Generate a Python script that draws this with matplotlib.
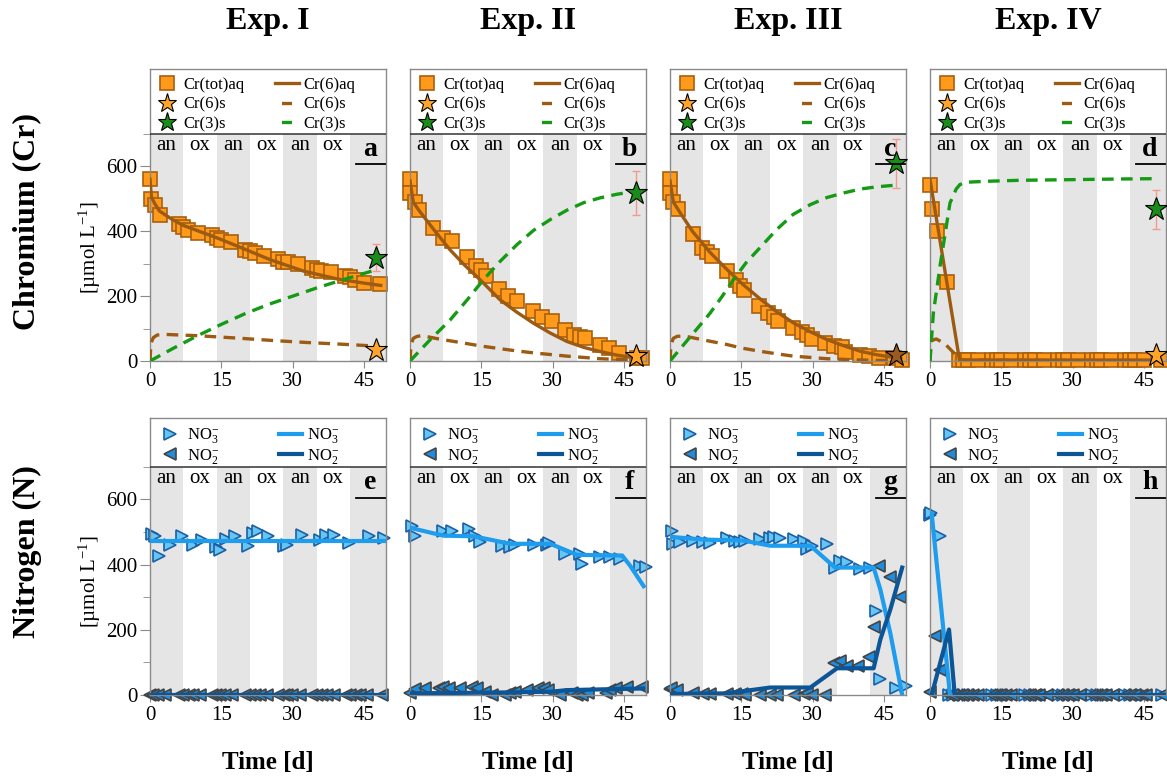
import matplotlib
matplotlib.use('Agg')
import matplotlib.pyplot as plt
from matplotlib.lines import Line2D

plt.rcParams['font.family'] = ['Liberation Serif', 'DejaVu Serif']
plt.rcParams['mathtext.fontset'] = 'custom'
plt.rcParams['mathtext.rm'] = 'Liberation Serif'
plt.rcParams['mathtext.it'] = 'Liberation Serif:italic'
plt.rcParams['mathtext.bf'] = 'Liberation Serif:bold'

# ---------------- data ----------------
exp_titles = ['Exp. I', 'Exp. II', 'Exp. III', 'Exp. IV']
top_letters = ['a', 'b', 'c', 'd']
bot_letters = ['e', 'f', 'g', 'h']
band_edges = [0, 7, 14, 21, 28, 35, 42]
band_labels = ['an', 'ox', 'an', 'ox', 'an', 'ox']

# Cr(tot)aq measured
a_tot_d = [0, 0.3, 1, 2, 6, 7, 8, 10, 13, 14, 15, 17, 20, 21, 22, 24, 27, 28, 29, 31, 34, 35, 36, 38, 41, 42, 43, 45, 48.3]
a_tot_v = [562, 500, 480, 451, 421, 412, 403, 395, 388, 379, 374, 366, 343, 338, 333, 325, 314, 305, 305, 298, 288, 280, 278, 275, 262, 258, 250, 240, 237]
b_tot_d = [0, 0.1, 1.05, 1.96, 4.8, 6.9, 8.8, 11.9, 13.9, 14.9, 16, 18.8, 20.7, 22.5, 25.8, 27.7, 29.8, 32.6, 34.4, 35.8, 36.8, 39.9, 41.8, 43.9, 47.8, 48.8]
b_tot_v = [562, 519, 489, 465, 410, 379, 369, 321, 292, 279, 261, 222, 201, 186, 153, 137, 122, 96, 80, 73, 70, 49, 39, 24, 8, 10]
c_tot_d = [0, 0.07, 0.7, 1.75, 4.8, 6.7, 7.7, 8.8, 11.9, 13.9, 14.7, 15.6, 18.8, 20.7, 21.8, 22.8, 25.8, 27.7, 28.8, 29.8, 32.6, 34.4, 36.1, 36.8, 39.9, 41.8, 43.9, 47, 48.8]
c_tot_v = [562, 519, 490, 468, 390, 349, 336, 323, 277, 251, 230, 220, 170, 148, 137, 122, 101, 88, 80, 67, 55, 46, 42, 29, 18, 15, 8, 8, 3]
d_tot_d = [0, 0.35, 1.4, 3.5, 6, 7, 8, 10, 13, 14, 15, 17, 20, 21, 22, 24, 27, 28, 29, 31, 34, 35, 36, 38, 41, 42, 43, 45, 48.5]
d_tot_v = [544, 467, 400, 243, 2, 2, 2, 2, 2, 2, 2, 2, 2, 2, 2, 2, 2, 2, 2, 2, 2, 2, 2, 2, 2, 2, 2, 2, 2]

# Cr(6)aq model
a_m6aq_d = [0, 0.3, 1, 2, 4.7, 7, 11.2, 14, 18.2, 25.3, 32.3, 39.3, 45, 48.5]
a_m6aq_v = [560, 505, 485, 462, 436, 418, 395, 380, 355, 312, 277, 253, 240, 233]
b_m6aq_d = [0, 0.7, 2, 5, 8.4, 11.5, 14.7, 18.9, 22.5, 26, 29.5, 33, 36.5, 40, 43.5, 47, 48.5]
b_m6aq_v = [555, 489, 462, 405, 343, 295, 251, 189, 150, 116, 86, 60, 42, 29, 18, 10, 8]
c_m6aq_d = [0, 0.7, 2, 4.8, 8.4, 11.9, 15.4, 18.9, 22.4, 25.9, 29.5, 33, 36.5, 40, 43.5, 47, 48.5]
c_m6aq_v = [555, 490, 460, 398, 335, 283, 235, 192, 152, 118, 90, 66, 47, 30, 19, 11, 8]
d_m6aq_d = [0, 6.2, 48.5]
d_m6aq_v = [560, 3, 3]

# Cr(6)s model
a_m6s_d = [0, 0.2, 0.7, 1.5, 3, 10, 19, 26, 33, 40, 47.5]
a_m6s_v = [0, 55, 72, 80, 82, 78, 70, 63, 57, 52, 46]
b_m6s_d = [0, 0.2, 0.7, 1.5, 2.6, 6, 11, 15, 18.9, 22.5, 26, 29.5, 33, 36.5, 40, 43.5, 47.5]
b_m6s_v = [0, 50, 70, 76, 78, 68, 56, 46, 38, 31, 25, 20, 15, 11, 7, 5, 3]
c_m6s_d = [0, 0.2, 0.7, 1.5, 3, 7, 11.9, 15, 18.9, 22.5, 25.9, 29.5, 33, 36.5, 40, 47.5]
c_m6s_v = [0, 50, 70, 76, 77, 65, 51, 40, 30, 22, 15, 11, 7, 5, 3, 1]
d_m6s_d = [0, 0.2, 1.3, 3, 5, 6.3, 47.5]
d_m6s_v = [0, 62, 68, 55, 25, 3, 0]

# Cr(3)s model
a_m3s_d = [0, 5, 10, 15, 20, 25, 30, 35, 40, 45, 47.5]
a_m3s_v = [0, 40, 78, 113, 146, 175, 200, 225, 248, 270, 281]
b_m3s_d = [0, 4, 8.4, 12, 15.4, 19, 22.5, 26, 29.5, 33, 36.5, 40, 43.5, 47.5]
b_m3s_v = [0, 62, 126, 188, 250, 308, 359, 403, 436, 465, 488, 503, 514, 523]
c_m3s_d = [0, 4, 8.4, 11, 13.3, 16, 18.9, 22.4, 25.9, 29.5, 33, 36.5, 40, 43.5, 47.5]
c_m3s_v = [0, 70, 147, 200, 250, 303, 349, 405, 452, 482, 504, 518, 530, 537, 542]
d_m3s_d = [0, 0.7, 2.1, 4.2, 5.5, 6.3, 7.7, 12, 18.9, 30, 40, 47.5]
d_m3s_v = [0, 147, 292, 487, 530, 544, 551, 554, 557, 559, 561, 562]

# solid phase measurements at the end (day, value, error)
star_day = 47.5
s3_val = [318, 519, 609, 467]
s3_err = [42, 68, 76, 60]
s6_val = [34, 15, 18, 18]

# NO3- measured
e_no3_d = [0.35, 1.05, 1.96, 4.1, 6.7, 9, 10.9, 13.9, 14.7, 16, 17.9, 20.7, 21.6, 22.8, 24.7, 28.1, 28.8, 31.9, 35.7, 36.9, 38.7, 41.8, 46, 49.1]
e_no3_v = [495, 487, 426, 461, 487, 461, 476, 454, 444, 479, 487, 458, 497, 502, 487, 458, 461, 490, 476, 490, 490, 467, 487, 483]
f_no3_d = [0.35, 1.05, 7, 8.8, 12.3, 13.7, 14.7, 19.3, 21.1, 22.1, 26, 28.8, 29.3, 32.6, 35.8, 36.1, 40, 42.1, 44.2, 48.4, 49.5]
f_no3_v = [520, 489, 503, 503, 508, 489, 468, 458, 454, 461, 461, 461, 466, 433, 433, 402, 423, 423, 417, 396, 394]
g_no3_d = [0.35, 0.7, 2.1, 4.9, 7, 8.4, 11.9, 13.7, 14.7, 15.8, 18.9, 21.1, 21.8, 23.2, 26, 28.1, 28.8, 29.8, 33, 34.7, 35.8, 37.2, 40, 42.1, 43.2, 44.2, 47.4, 49.5]
g_no3_v = [502, 464, 469, 474, 469, 467, 481, 474, 469, 474, 479, 481, 484, 481, 479, 474, 448, 458, 464, 391, 412, 407, 386, 391, 257, 48, 22, 27]
h_no3_d = [0, 0.3, 2.1, 3.9, 4.9, 6, 7, 8, 9, 10, 13, 14, 15, 16, 17, 20, 21, 22, 23, 24.5, 27, 28, 29, 30, 31.5, 34, 35, 36, 37, 38.5, 41, 42, 43, 44.5, 45.5, 48.8]
h_no3_v = [553, 560, 488, 0, 0, 0, 0, 0, 0, 0, 0, 0, 0, 0, 0, 0, 0, 0, 0, 0, 0, 0, 0, 0, 0, 0, 0, 0, 0, 0, 0, 0, 0, 0, 0, 0]

# NO2- measured
e_no2_d = [0, 0.7, 1.75, 3.2, 6, 7, 8.1, 9.1, 10.5, 13, 13.9, 14.7, 15.8, 17.2, 20, 21, 22.1, 23.2, 24.6, 27, 28.1, 28.8, 29.8, 31.6, 34.1, 35.1, 36.1, 37.2, 38.6, 41.1, 42.1, 43.2, 44.2, 45.6, 48.8]
e_no2_v = [0, 0, 0, 0, 0, 0, 0, 0, 0, 0, 0, 0, 0, 0, 0, 0, 0, 0, 0, 0, 0, 0, 0, 0, 0, 0, 0, 0, 0, 0, 0, 0, 0, 0, 0]
f_no2_d = [0, 1.05, 3.2, 6, 7, 8.1, 10.5, 13, 14, 15.8, 17.2, 20, 21, 22.1, 24.6, 27, 28.1, 29.1, 31.6, 34.1, 35.1, 36.1, 37.5, 41.1, 42.1, 43.2, 45.6, 48.8]
f_no2_v = [5, 17, 20, 20, 26, 20, 20, 26, 20, 10, 0, 0, 5, 10, 15, 20, 20, 15, 0, 5, 0, 0, 5, 5, 15, 20, 26, 26]
g_no2_d = [0, 0.3, 1.4, 4.9, 7, 8.4, 11.9, 13.7, 15.1, 15.8, 18.9, 21.1, 22.5, 26, 28.1, 28.8, 29.8, 32.6, 34.4, 35.8, 37.2, 39.6, 41.8, 42.8, 43.9, 46.3, 48.4]
g_no2_v = [17, 20, 15, 5, 3, 3, 3, 3, 3, 0, 0, 0, 0, 0, 3, 5, 0, 0, 97, 103, 88, 88, 118, 210, 397, 362, 300]
h_no2_d = [0, 1, 2.1, 3.9, 4.9, 6, 7, 8, 9, 10, 13, 14, 15, 16, 17, 20, 21, 22, 23, 24.5, 27, 28, 29, 30, 31.5, 34, 35, 36, 37, 38.5, 41, 42, 43, 44.5, 45.5, 48.8]
h_no2_v = [10, 180, 77, 0, 0, 0, 0, 0, 0, 0, 0, 0, 0, 0, 0, 0, 0, 0, 0, 0, 0, 0, 0, 0, 0, 0, 0, 0, 0, 0, 0, 0, 0, 0, 0, 0]

# NO3- / NO2- model
e_mno3_d = [0, 49.3]
e_mno3_v = [472, 472]
f_mno3_d = [0.35, 7, 13.4, 21.1, 29.5, 35.1, 44.6, 46.3, 49.1]
f_mno3_v = [512, 489, 487, 464, 464, 430, 428, 396, 334]
g_mno3_d = [0.35, 7, 15.4, 21.1, 29.5, 34.7, 42.8, 44.2, 46.3, 48.8]
g_mno3_v = [485, 477, 474, 458, 458, 391, 391, 324, 190, 0]
h_mno3_d = [0.35, 4.2, 49.3]
h_mno3_v = [557, 0, 0]
e_mno2_d = [0, 49.3]
e_mno2_v = [0, 0]
f_mno2_d = [0, 21, 29.5, 33, 49]
f_mno2_v = [5, 8, 10, 15, 20]
g_mno2_d = [0, 11.9, 21.1, 29.5, 35.1, 42.8, 44.2, 46.3, 48.8]
g_mno2_v = [3, 5, 23, 23, 82, 82, 170, 262, 391]
h_mno2_d = [0.35, 4.0, 5.2, 49.3]
h_mno2_v = [0, 201, 0, 0]

cr_tot = [(a_tot_d, a_tot_v), (b_tot_d, b_tot_v), (c_tot_d, c_tot_v), (d_tot_d, d_tot_v)]
cr_m6aq = [(a_m6aq_d, a_m6aq_v), (b_m6aq_d, b_m6aq_v), (c_m6aq_d, c_m6aq_v), (d_m6aq_d, d_m6aq_v)]
cr_m6s = [(a_m6s_d, a_m6s_v), (b_m6s_d, b_m6s_v), (c_m6s_d, c_m6s_v), (d_m6s_d, d_m6s_v)]
cr_m3s = [(a_m3s_d, a_m3s_v), (b_m3s_d, b_m3s_v), (c_m3s_d, c_m3s_v), (d_m3s_d, d_m3s_v)]
no3 = [(e_no3_d, e_no3_v), (f_no3_d, f_no3_v), (g_no3_d, g_no3_v), (h_no3_d, h_no3_v)]
no2 = [(e_no2_d, e_no2_v), (f_no2_d, f_no2_v), (g_no2_d, g_no2_v), (h_no2_d, h_no2_v)]
mno3 = [(e_mno3_d, e_mno3_v), (f_mno3_d, f_mno3_v), (g_mno3_d, g_mno3_v), (h_mno3_d, h_mno3_v)]
mno2 = [(e_mno2_d, e_mno2_v), (f_mno2_d, f_mno2_v), (g_mno2_d, g_mno2_v), (h_mno2_d, h_mno2_v)]

# ---------------- style ----------------
ORANGE = '#FF9A1A'
ORANGE_EDGE = '#A8600E'
BROWN = '#9C5A12'
GREEN = '#159A15'
STAR_GREEN = '#1A8C1A'
STAR_ORANGE = '#FFA52A'
NO3_FILL = '#66C6F2'
NO3_EDGE = '#1C5FA5'
NO3_LINE = '#1E9CEE'
NO2_FILL = '#1F8CDD'
NO2_EDGE = '#444444'
NO2_LINE = '#0C5597'
BAND = '#E5E5E5'
SPINE = '#8A8A8A'
DASH = (3.5, 2.2)
LEG_DASH = (4.95, (3.0, 3.9))   # one centred dash in the legend handle

W, H = 1167, 778
fig = plt.figure(figsize=(W / 100, H / 100), dpi=100)

col_left = [150, 410, 670, 930]
col_w = 236
top_h, bot_h = 292, 277
XMAX = 49.6


def setup(ax, ytop, letter, first):
    ax.set_xlim(0, XMAX)
    ax.set_ylim(0, ytop)
    for i in range(0, len(band_edges), 2):
        hi = band_edges[i + 1] if i + 1 < len(band_edges) else XMAX
        ax.fill_between([band_edges[i], hi], 0, 700, color=BAND, lw=0, zorder=0)
    for i, lab in enumerate(band_labels):
        ax.text(band_edges[i] + 3.5, 665, lab, ha='center', va='center', fontsize=15, zorder=1)
    ax.text(46.2, 652, letter, ha='center', va='center', fontsize=20, fontweight='bold', zorder=6)
    ax.plot([43.3, 49.3], [606, 606], color='black', lw=1.3, zorder=6)
    ax.axhline(700, color='#333333', lw=1.1, zorder=5)
    for s in ax.spines.values():
        s.set_color(SPINE)
        s.set_linewidth(1.0)
    ax.set_xticks([0, 15, 30, 45])
    ax.tick_params(axis='x', direction='out', length=5, color=SPINE, labelsize=15, pad=3)
    if first:
        ax.set_yticks([0, 200, 400, 600])
        ax.set_yticks([100, 300, 500, 700], minor=True)
        ax.tick_params(axis='y', which='major', direction='out', length=7, color=SPINE, labelsize=15, pad=2)
        ax.tick_params(axis='y', which='minor', direction='out', length=5, color=SPINE)
    else:
        ax.set_yticks([])


cr_handles = [
    Line2D([], [], ls='none', marker='s', ms=9.5, mfc=ORANGE, mec=ORANGE_EDGE, mew=1.2),
    Line2D([], [], ls='none', marker='*', ms=14, mfc=STAR_ORANGE, mec='black', mew=0.8),
    Line2D([], [], ls='none', marker='*', ms=14, mfc=STAR_GREEN, mec='black', mew=0.8),
    Line2D([], [], color=BROWN, lw=2.4),
    Line2D([], [], color=BROWN, lw=2.4, linestyle=LEG_DASH),
    Line2D([], [], color=GREEN, lw=2.4, linestyle=LEG_DASH),
]
cr_labels = ['Cr(tot)aq', 'Cr(6)s', 'Cr(3)s', 'Cr(6)aq', 'Cr(6)s', 'Cr(3)s']
n_handles = [
    Line2D([], [], ls='none', marker='>', ms=9, mfc=NO3_FILL, mec=NO3_EDGE, mew=1.2),
    Line2D([], [], ls='none', marker='<', ms=9, mfc=NO2_FILL, mec=NO2_EDGE, mew=1.2),
    Line2D([], [], color=NO3_LINE, lw=3),
    Line2D([], [], color=NO2_LINE, lw=3),
]
n_labels = ['NO$_3^{-}$', 'NO$_2^{-}$', 'NO$_3^{-}$', 'NO$_2^{-}$']

for k in range(4):
    cx = (col_left[k] + col_w / 2) / W

    # chromium row
    ax = fig.add_axes([col_left[k] / W, 1 - 361 / H, col_w / W, top_h / H])
    setup(ax, 900, top_letters[k], k == 0)
    ax.plot(*cr_tot[k], ls='none', marker='s', ms=9.5, mfc=ORANGE, mec=ORANGE_EDGE, mew=1.2,
            zorder=2, clip_on=False)
    ax.plot(*cr_m6aq[k], color=BROWN, lw=2.4, zorder=3)
    ax.plot(*cr_m6s[k], color=BROWN, lw=2.4, dashes=DASH, zorder=3)
    ax.plot(*cr_m3s[k], color=GREEN, lw=2.4, dashes=DASH, zorder=3)
    ax.errorbar(star_day, s3_val[k], yerr=s3_err[k], fmt='none', ecolor='#F29A8C', elinewidth=1,
                capsize=3, zorder=4)
    ax.plot(star_day, s3_val[k], marker='*', ms=17, mfc=STAR_GREEN, mec='black', mew=0.8,
            zorder=5, clip_on=False)
    s6_col = '#9A5B22' if k == 2 else STAR_ORANGE
    ax.plot(star_day, s6_val[k], marker='*', ms=17, mfc=s6_col, mec='black', mew=0.8,
            zorder=5, clip_on=False)
    ax.legend(cr_handles, cr_labels, loc='upper left', bbox_to_anchor=(0.0, 1 - 3 / top_h), ncol=2,
              frameon=False, fontsize=12, handlelength=1.4, handletextpad=0.3,
              columnspacing=1.85, borderpad=0.3, labelspacing=0.21, borderaxespad=0)
    fig.text(cx, 1 - 22 / H, exp_titles[k], ha='center', va='center', fontsize=23,
             fontweight='bold')

    # nitrogen row
    ax = fig.add_axes([col_left[k] / W, 1 - 695 / H, col_w / W, bot_h / H])
    setup(ax, 850, bot_letters[k], k == 0)
    ax.plot(*no3[k], ls='none', marker='>', ms=9, mfc=NO3_FILL, mec=NO3_EDGE, mew=1.2,
            zorder=2, clip_on=False)
    ax.plot(*no2[k], ls='none', marker='<', ms=9, mfc=NO2_FILL, mec=NO2_EDGE, mew=1.2,
            zorder=2, clip_on=False)
    ax.plot(*mno3[k], color=NO3_LINE, lw=3, zorder=3)
    ax.plot(*mno2[k], color=NO2_LINE, lw=3, zorder=3)
    ax.legend(n_handles, n_labels, loc='upper left', bbox_to_anchor=(5 / col_w, 1 - 5 / bot_h), ncol=2,
              frameon=False, fontsize=12, handlelength=1.4, handletextpad=0.3,
              columnspacing=3.6, borderpad=0.2, labelspacing=0.1, borderaxespad=0)
    fig.text(cx, 1 - 762 / H, 'Time [d]', ha='center', va='center', fontsize=18,
             fontweight='bold')

fig.text(27 / W, 1 - 222 / H, 'Chromium (Cr)', rotation=90, ha='center', va='center',
         fontsize=23, fontweight='bold')
fig.text(27 / W, 1 - 552 / H, 'Nitrogen (N)', rotation=90, ha='center', va='center',
         fontsize=23, fontweight='bold')
fig.text(90 / W, 1 - 247 / H, '[µmol L$^{-1}$]', rotation=90, ha='center', va='center',
         fontsize=15)
fig.text(90 / W, 1 - 581 / H, '[µmol L$^{-1}$]', rotation=90, ha='center', va='center',
         fontsize=15)

fig.savefig('out.png', dpi=100)
